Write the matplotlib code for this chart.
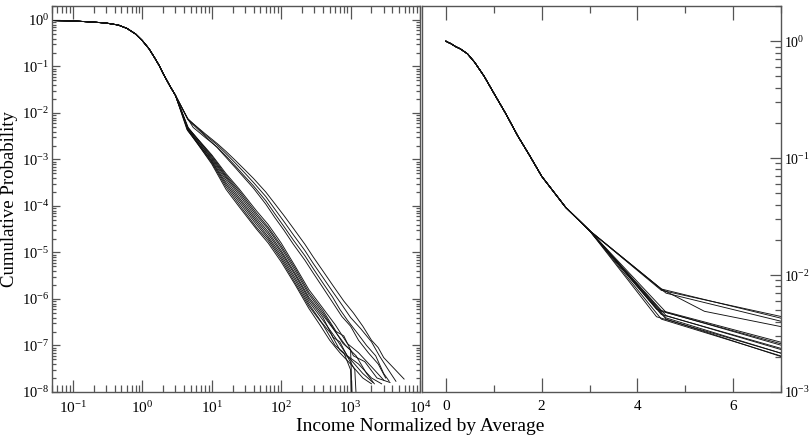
import matplotlib
matplotlib.use("Agg")
import math
import matplotlib.pyplot as plt
from matplotlib.ticker import LogLocator, FuncFormatter, NullFormatter, MultipleLocator

# ---------------- data ----------------
# shared body of all distributions (income / average, cumulative probability)
HEAD_X = [0.0, 0.05, 0.1, 0.2, 0.3, 0.45, 0.6, 0.8, 1.0, 1.25, 1.5, 1.75, 2.0, 2.5, 3.0]
HEAD_Y = [1.0, 0.975, 0.955, 0.90, 0.86, 0.78, 0.66, 0.50, 0.36, 0.24, 0.155, 0.105, 0.070, 0.038, 0.024]

# upper group of tails
U1_X = [4.5, 8, 12, 16, 22, 30, 40, 60, 80, 110, 150, 220, 290, 400, 550, 800, 1100, 1500, 2000, 2500, 3000, 4000, 5900]
U1_Y = [7.4e-3, 3.6e-3, 2.2e-3, 1.5e-3, 9.5e-4, 6.0e-4, 3.9e-4, 2.0e-4, 1.15e-4, 6.2e-5, 3.3e-5, 1.5e-5, 8.0e-6,
        4.0e-6, 2.0e-6, 9.0e-7, 5.0e-7, 2.6e-7, 1.3e-7, 9.0e-8, 5.5e-8, 3.5e-8, 1.9e-8]
U2_X = [4.5, 8, 12, 16, 22, 30, 40, 60, 80, 110, 150, 220, 290, 400, 550, 750, 1000, 1400, 2000, 2600, 3500, 4500]
U2_Y = [7.6e-3, 3.4e-3, 2.05e-3, 1.35e-3, 8.3e-4, 5.1e-4, 3.2e-4, 1.6e-4, 8.8e-5, 4.6e-5, 2.4e-5, 1.1e-5, 5.8e-6,
        2.9e-6, 1.45e-6, 7.5e-7, 4.0e-7, 2.3e-7, 1.2e-7, 6.0e-8, 3.0e-8, 1.7e-8]
U3_X = [4.5, 5.4, 8, 12, 16, 22, 30, 40, 60, 80, 110, 150, 220, 290, 400, 550, 700, 900, 1200, 1700, 2300, 3000, 3600]
U3_Y = [7.6e-3, 4.9e-3, 3.0e-3, 1.85e-3, 1.2e-3, 7.2e-4, 4.3e-4, 2.7e-4, 1.3e-4, 7.0e-5, 3.6e-5, 1.85e-5, 8.5e-6,
        4.5e-6, 2.2e-6, 1.1e-6, 6.0e-7, 3.5e-7, 2.0e-7, 1.0e-7, 6.0e-8, 2.5e-8, 1.7e-8]
U4_X = [4.6, 8, 12, 16, 22, 30, 40, 60, 80, 110, 150, 220, 290, 400, 550, 750, 1000, 1300, 1800, 2500, 3200]
U4_Y = [7.0e-3, 3.2e-3, 1.8e-3, 1.12e-3, 6.6e-4, 3.9e-4, 2.4e-4, 1.1e-4, 5.8e-5, 3.0e-5, 1.5e-5, 6.8e-6, 3.6e-6,
        1.75e-6, 8.5e-7, 4.2e-7, 2.6e-7, 1.3e-7, 7.0e-8, 4.0e-8, 2.0e-8]

# lower group of tails
L1_X = [4.4, 10, 16, 25, 44, 65, 100, 160, 250, 400, 600, 900, 1300, 2000, 3000]
L1_Y = [5.1e-3, 1.26e-3, 5.0e-4, 2.3e-4, 7.9e-5, 4.0e-5, 1.6e-5, 5.0e-6, 1.6e-6, 6.3e-7, 2.8e-7, 1.1e-7, 7.0e-8, 3.5e-8, 1.8e-8]
L2_X = [4.5, 10, 16, 25, 44, 65, 100, 160, 250, 400, 620, 800, 1100, 1600, 2400, 3700]
L2_Y = [4.9e-3, 1.2e-3, 4.6e-4, 2.1e-4, 7.0e-5, 3.5e-5, 1.4e-5, 4.5e-6, 1.4e-6, 5.6e-7, 2.0e-7, 1.6e-7, 6.0e-8, 4.5e-8, 2.0e-8, 1.6e-8]
L3_X = [4.6, 10, 16, 25, 44, 65, 100, 160, 250, 400, 580, 780, 1000, 1050]
L3_Y = [4.8e-3, 1.12e-3, 4.3e-4, 1.9e-4, 6.3e-5, 3.2e-5, 1.26e-5, 4.0e-6, 1.26e-6, 5.0e-7, 2.2e-7, 1.1e-7, 8.0e-8, 9.0e-9]
L4_X = [4.5, 10, 16, 25, 44, 65, 100, 160, 250, 400, 600, 850, 1200, 1700, 2200]
L4_Y = [4.6e-3, 1.06e-3, 4.0e-4, 1.7e-4, 5.6e-5, 2.8e-5, 1.1e-5, 3.5e-6, 1.1e-6, 4.5e-7, 2.0e-7, 1.0e-7, 6.0e-8, 2.5e-8, 1.5e-8]
L5_X = [4.6, 10, 16, 25, 44, 65, 100, 160, 250, 400, 560, 700, 950, 1150, 1200]
L5_Y = [4.5e-3, 1.0e-3, 3.6e-4, 1.5e-4, 5.0e-5, 2.5e-5, 1.0e-5, 3.2e-6, 1.0e-6, 4.0e-7, 1.5e-7, 1.2e-7, 5.0e-8, 3.0e-8, 9.0e-9]
L6_X = [4.4, 10, 16, 25, 44, 65, 100, 160, 250, 400, 600, 900, 1300, 2000, 2800]
L6_Y = [4.4e-3, 9.4e-4, 3.2e-4, 1.35e-4, 4.5e-5, 2.2e-5, 8.9e-6, 2.8e-6, 8.9e-7, 3.5e-7, 1.5e-7, 6.0e-8, 4.0e-8, 2.0e-8, 1.5e-8]
L7_X = [4.6, 10, 16, 25, 44, 65, 100, 160, 250, 380, 520, 700, 1000, 1500, 2100]
L7_Y = [4.3e-3, 9.0e-4, 2.9e-4, 1.2e-4, 4.0e-5, 2.0e-5, 7.9e-6, 2.5e-6, 7.9e-7, 3.2e-7, 1.8e-7, 8.0e-8, 5.0e-8, 2.5e-8, 1.6e-8]
L8_X = [4.5, 10, 16, 25, 44, 65, 100, 160, 250, 400, 600, 800, 1000, 1020]
L8_Y = [4.2e-3, 8.5e-4, 2.6e-4, 1.06e-4, 3.5e-5, 1.8e-5, 7.1e-6, 2.2e-6, 7.1e-7, 2.8e-7, 1.0e-7, 7.0e-8, 3.0e-8, 9.0e-9]
L9_X = [4.6, 10, 16, 25, 44, 65, 100, 160, 250, 360, 500, 700, 1000, 1500, 2000]
L9_Y = [4.2e-3, 8.0e-4, 2.3e-4, 9.5e-5, 3.2e-5, 1.6e-5, 6.3e-6, 2.0e-6, 6.3e-7, 2.8e-7, 1.3e-7, 7.0e-8, 4.0e-8, 2.0e-8, 1.5e-8]

TAILS = [(U1_X, U1_Y), (U2_X, U2_Y), (U3_X, U3_Y), (U4_X, U4_Y),
         (L1_X, L1_Y), (L2_X, L2_Y), (L3_X, L3_Y), (L4_X, L4_Y), (L5_X, L5_Y),
         (L6_X, L6_Y), (L7_X, L7_Y), (L8_X, L8_Y), (L9_X, L9_Y)]

LOG_XTICKS = [1e-1, 1e0, 1e1, 1e2, 1e3, 1e4]
LIN_XTICKS = [0, 2, 4, 6]

# ---------------- style ----------------
plt.rcParams['font.family'] = ['Liberation Serif', 'DejaVu Serif']
plt.rcParams['mathtext.fontset'] = 'custom'
plt.rcParams['mathtext.rm'] = 'Liberation Serif'
plt.rcParams['mathtext.it'] = 'Liberation Serif:italic'
plt.rcParams['mathtext.bf'] = 'Liberation Serif:bold'

SPINE = '#555555'
LINE = '#111111'

fig = plt.figure(figsize=(8.1, 4.4), dpi=100)
axL = fig.add_axes([52 / 810, 48 / 440, 368 / 810, 386 / 440])
axR = fig.add_axes([422 / 810, 48 / 440, 359 / 810, 386 / 440])

pow_fmt = FuncFormatter(lambda v, p: r'$10^{%d}$' % int(round(math.log10(v))))

for xs_t, ys_t in TAILS:
    xs = HEAD_X + xs_t
    ys = HEAD_Y + ys_t
    xl = [a for a in xs if a > 0]
    yl = [b for a, b in zip(xs, ys) if a > 0]
    axL.plot(xl, yl, color=LINE, lw=0.65)
    axR.plot(xs, ys, color=LINE, lw=0.65)

# left panel
axL.set_xscale('log')
axL.set_yscale('log')
axL.set_xlim(0.05, 1e4)
axL.set_ylim(1e-8, 2.0)
axL.xaxis.set_minor_locator(LogLocator(base=10, subs=range(2, 10), numticks=100))
axL.yaxis.set_major_locator(LogLocator(base=10, numticks=20))
axL.yaxis.set_minor_locator(LogLocator(base=10, subs=range(2, 10), numticks=100))
axL.set_xticks(LOG_XTICKS)
axL.xaxis.set_major_formatter(pow_fmt)
axL.yaxis.set_major_formatter(pow_fmt)
axL.xaxis.set_minor_formatter(NullFormatter())
axL.yaxis.set_minor_formatter(NullFormatter())
axL.tick_params(which='both', direction='in', top=True, right=True, colors=SPINE,
                labelcolor='black', labelsize=11, width=0.9)
axL.tick_params(which='major', length=9)
axL.tick_params(which='minor', length=5)
axL.tick_params(axis='y', which='major', length=6, pad=2)
axL.tick_params(axis='y', which='minor', length=3)
axL.tick_params(axis='y', labelsize=10.5)
axL.tick_params(axis='x', pad=6)

# right panel
axR.set_yscale('log')
axR.set_xlim(-0.5, 7)
axR.set_ylim(1e-3, 2.0)
axR.set_xticks(LIN_XTICKS)
axR.xaxis.set_minor_locator(MultipleLocator(1))
axR.yaxis.set_major_locator(LogLocator(base=10, numticks=20))
axR.yaxis.set_minor_locator(LogLocator(base=10, subs=range(2, 10), numticks=100))
axR.yaxis.set_major_formatter(pow_fmt)
axR.yaxis.set_minor_formatter(NullFormatter())
axR.yaxis.tick_right()
axR.tick_params(axis='y', which='both', left=False, right=True, labelleft=False, labelright=True, pad=2)
axR.tick_params(axis='x', which='both', top=True, bottom=True, pad=6)
axR.tick_params(which='both', direction='in', colors=SPINE, labelcolor='black', width=0.9)
axR.tick_params(axis='x', labelsize=11)
axR.tick_params(axis='y', labelsize=10)
axR.tick_params(axis='x', which='major', length=10)
axR.tick_params(axis='x', which='minor', length=5)
axR.tick_params(axis='y', which='major', length=8)
axR.tick_params(axis='y', which='minor', length=4)

for ax in (axL, axR):
    for s in ax.spines.values():
        s.set_color(SPINE)
        s.set_linewidth(1.0)

fig.text(10 / 810, 1 - 199 / 440, 'Cumulative Probability', rotation=90,
         ha='center', va='center', fontsize=13.5)
fig.text(420 / 810, 14 / 440, 'Income Normalized by Average', ha='center', va='center', fontsize=14)

fig.savefig('out.png', dpi=100)
